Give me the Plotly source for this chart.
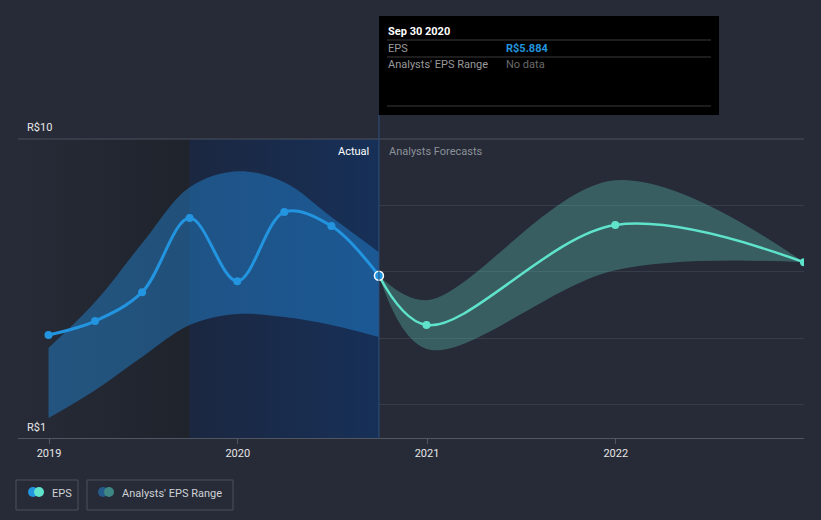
import plotly.graph_objects as go

# ---- data ----
actual_dates = ["2018-12-31", "2019-03-31", "2019-06-30", "2019-09-30",
                "2019-12-31", "2020-03-31", "2020-06-30", "2020-09-30"]
actual_eps = [4.10, 4.52, 5.39, 7.62, 5.72, 7.80, 7.38, 5.884]
actual_band_upper = [3.71, 5.09, 6.86, 8.55, 9.03, 8.70, 7.65, 6.59]
actual_band_lower = [1.60, 2.44, 3.44, 4.40, 4.73, 4.64, 4.40, 4.04]

forecast_dates = ["2020-09-30", "2020-12-31", "2021-12-31", "2022-12-31"]
forecast_eps = [5.884, 4.40, 7.41, 6.29]
forecast_upper = [5.884, 5.15, 8.76, 6.29]
forecast_lower = [5.884, 3.68, 6.05, 6.29]

x_ticks = ["2019-01-01", "2020-01-01", "2021-01-01", "2022-01-01"]
x_tick_labels = ["2019", "2020", "2021", "2022"]
y_grid = [2, 4, 6, 8, 10]

# ---- layout geometry (pixels) ----
W, H = 821, 520
L, R, T, B = 18, 804, 139, 438
BG = "#262b37"
FONT = "Roboto, 'Open Sans', sans-serif"


def px(xp):
    return (xp - L) / (R - L)


def py(yp):
    return (B - yp) / (B - T)


fig = go.Figure()

# shaded background regions
fig.add_trace(go.Scatter(
    x=["2018-11-02", "2019-09-30", "2019-09-30", "2018-11-02", "2018-11-02"],
    y=[1, 1, 10, 10, 1], mode="lines", line=dict(width=0),
    fill="toself", fillgradient=dict(type="horizontal",
                                     colorscale=[[0, "rgb(38,43,55)"], [1, "rgb(31,35,44)"]]),
    hoverinfo="skip", showlegend=False))
fig.add_trace(go.Scatter(
    x=["2019-09-30", "2020-09-30", "2020-09-30", "2019-09-30", "2019-09-30"],
    y=[1, 1, 10, 10, 1], mode="lines", line=dict(width=0),
    fill="toself", fillgradient=dict(type="horizontal",
                                     colorscale=[[0, "rgb(27,39,64)"], [1, "rgb(23,48,88)"]]),
    hoverinfo="skip", showlegend=False))

# actual band
fig.add_trace(go.Scatter(x=actual_dates, y=actual_band_upper, mode="lines",
                         line=dict(width=0, shape="spline", smoothing=1.0),
                         hoverinfo="skip", showlegend=False))
fig.add_trace(go.Scatter(x=actual_dates, y=actual_band_lower, mode="lines",
                         line=dict(width=0, shape="spline", smoothing=1.0),
                         fill="tonexty", fillcolor="rgba(35,145,230,0.42)",
                         hoverinfo="skip", showlegend=False))

# forecast band
fig.add_trace(go.Scatter(x=forecast_dates, y=forecast_upper, mode="lines",
                         line=dict(width=0, shape="spline", smoothing=1.0),
                         hoverinfo="skip", showlegend=False))
fig.add_trace(go.Scatter(x=forecast_dates, y=forecast_lower, mode="lines",
                         line=dict(width=0, shape="spline", smoothing=1.0),
                         fill="tonexty", fillcolor="rgba(88,178,165,0.38)",
                         hoverinfo="skip", showlegend=False))

# forecast line
fig.add_trace(go.Scatter(x=forecast_dates, y=forecast_eps, mode="lines+markers",
                         line=dict(color="#5fe3cb", width=2.5, shape="spline", smoothing=1.0),
                         marker=dict(size=8, color="#5fe3cb"),
                         hoverinfo="skip", showlegend=False))

# actual line
fig.add_trace(go.Scatter(x=actual_dates, y=actual_eps, mode="lines+markers",
                         line=dict(color="#2394df", width=3, shape="spline", smoothing=1.0),
                         marker=dict(size=8, color="#2394df"),
                         hoverinfo="skip", showlegend=False))
# highlighted last point
fig.add_trace(go.Scatter(x=[actual_dates[-1]], y=[actual_eps[-1]], mode="markers",
                         marker=dict(size=9, color="#2394df", line=dict(color="white", width=1.5)),
                         hoverinfo="skip", showlegend=False))

shapes = [
    # top gridline brighter
    dict(type="line", xref="paper", yref="paper", x0=0, x1=1, y0=1, y1=1,
         line=dict(color="#4a505c", width=1)),
    # vertical now-line
    dict(type="line", xref="x", yref="paper", x0="2020-09-30", x1="2020-09-30",
         y0=0, y1=py(115), line=dict(color="#2b5180", width=1)),
    # tooltip box
    dict(type="rect", xref="paper", yref="paper", x0=px(379), x1=px(719),
         y0=py(115), y1=py(16), fillcolor="#000000", line=dict(width=0)),
    dict(type="line", xref="paper", yref="paper", x0=px(387), x1=px(711),
         y0=py(40), y1=py(40), line=dict(color="#3a3a3a", width=1)),
    dict(type="line", xref="paper", yref="paper", x0=px(387), x1=px(711),
         y0=py(57), y1=py(57), line=dict(color="#3a3a3a", width=1)),
    dict(type="line", xref="paper", yref="paper", x0=px(387), x1=px(711),
         y0=py(106), y1=py(106), line=dict(color="#3a3a3a", width=1)),
    # legend boxes
    dict(type="rect", xref="paper", yref="paper", x0=px(16), x1=px(78),
         y0=py(510), y1=py(480), line=dict(color="#4a505c", width=1), fillcolor=BG),
    dict(type="rect", xref="paper", yref="paper", x0=px(87), x1=px(233),
         y0=py(510), y1=py(480), line=dict(color="#4a505c", width=1), fillcolor=BG),
    # legend icons
    dict(type="circle", xref="paper", yref="paper", x0=px(28), x1=px(38),
         y0=py(497), y1=py(487), fillcolor="#2394df", line=dict(width=0)),
    dict(type="circle", xref="paper", yref="paper", x0=px(34), x1=px(44),
         y0=py(497), y1=py(487), fillcolor="#5fe3cb", line=dict(width=0)),
    dict(type="circle", xref="paper", yref="paper", x0=px(98), x1=px(108),
         y0=py(497), y1=py(487), fillcolor="#255b8a", line=dict(width=0)),
    dict(type="circle", xref="paper", yref="paper", x0=px(104), x1=px(114),
         y0=py(497), y1=py(487), fillcolor="#3e8784", line=dict(width=0)),
]

annotations = [
    dict(text="R$10", xref="paper", yref="paper", x=px(25), y=py(127),
         xanchor="left", yanchor="middle", showarrow=False,
         font=dict(color="#e6e6e6", size=11, family=FONT)),
    dict(text="R$1", xref="paper", yref="paper", x=px(25), y=py(427),
         xanchor="left", yanchor="middle", showarrow=False,
         font=dict(color="#e6e6e6", size=11, family=FONT)),
    dict(text="Actual", xref="paper", yref="paper", x=px(371), y=py(151),
         xanchor="right", yanchor="middle", showarrow=False,
         font=dict(color="#ffffff", size=11, family=FONT)),
    dict(text="Analysts Forecasts", xref="paper", yref="paper", x=px(387), y=py(151),
         xanchor="left", yanchor="middle", showarrow=False,
         font=dict(color="#8c919a", size=11, family=FONT)),
    # tooltip text
    dict(text="<b>Sep 30 2020</b>", xref="paper", yref="paper", x=px(386), y=py(31),
         xanchor="left", yanchor="middle", showarrow=False,
         font=dict(color="#ffffff", size=11, family=FONT)),
    dict(text="EPS", xref="paper", yref="paper", x=px(386), y=py(48),
         xanchor="left", yanchor="middle", showarrow=False,
         font=dict(color="#9a9a9a", size=11, family=FONT)),
    dict(text="<b>R$5.884</b>", xref="paper", yref="paper", x=px(504), y=py(48),
         xanchor="left", yanchor="middle", showarrow=False,
         font=dict(color="#2394df", size=11, family=FONT)),
    dict(text="Analysts' EPS Range", xref="paper", yref="paper", x=px(386), y=py(65),
         xanchor="left", yanchor="middle", showarrow=False,
         font=dict(color="#9a9a9a", size=11, family=FONT)),
    dict(text="No data", xref="paper", yref="paper", x=px(504), y=py(65),
         xanchor="left", yanchor="middle", showarrow=False,
         font=dict(color="#6a6a6a", size=11, family=FONT)),
    # legend text
    dict(text="EPS", xref="paper", yref="paper", x=px(50), y=py(494),
         xanchor="left", yanchor="middle", showarrow=False,
         font=dict(color="#cfd2d6", size=11, family=FONT)),
    dict(text="Analysts' EPS Range", xref="paper", yref="paper", x=px(120), y=py(494),
         xanchor="left", yanchor="middle", showarrow=False,
         font=dict(color="#cfd2d6", size=11, family=FONT)),
]

fig.update_layout(
    width=W, height=H,
    margin=dict(l=L, r=W - R, t=T, b=H - B),
    paper_bgcolor=BG, plot_bgcolor=BG,
    showlegend=False,
    shapes=shapes, annotations=annotations,
    xaxis=dict(type="date", range=["2018-11-02", "2022-12-31"],
               tickvals=x_ticks, ticktext=x_tick_labels,
               showgrid=False, zeroline=False,
               showline=True, linecolor="#505662", linewidth=1,
               ticks="outside", ticklen=5, tickcolor="#505662",
               tickfont=dict(color="#e6e6e6", size=11, family=FONT)),
    yaxis=dict(range=[1, 10], tickvals=y_grid, showticklabels=False,
               showgrid=True, gridcolor="#363c48", gridwidth=1,
               zeroline=False, showline=False),
)

fig.write_html("out.html",
               config={"displayModeBar": False},
               post_script="document.body.style.margin='0';"
                           "document.body.style.background='" + BG + "';")
